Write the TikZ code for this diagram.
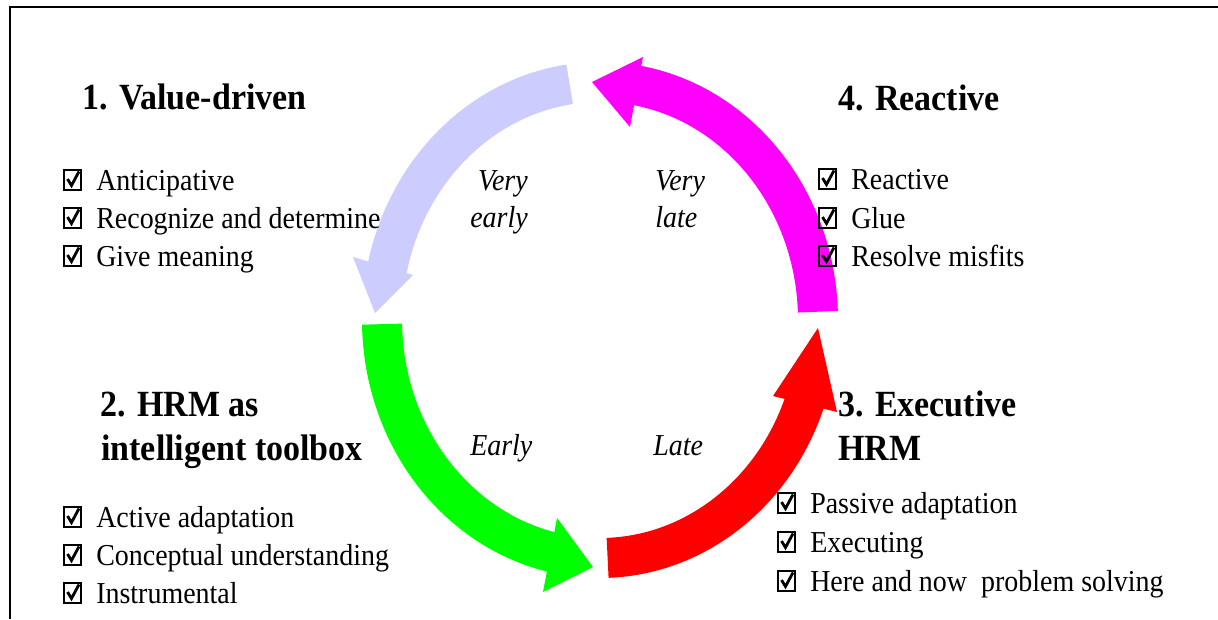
\documentclass[tikz,border=0pt]{standalone}
\usepackage{fontspec}
\setmainfont{Liberation Serif}[FakeStretch=0.92]
\definecolor{lav}{HTML}{CCCCFF}
\definecolor{grn}{HTML}{00FF00}
\definecolor{rd}{HTML}{FF0000}
\definecolor{mag}{HTML}{FF00FF}
\newcommand\chkitem[4]{\pic at (#2,#3) {cbox}; \node[body] (#1) at (#2+33,#3) {#4};}
\begin{document}
\begin{tikzpicture}[x=0.75pt,y=-0.75pt,
  body/.style={anchor=base west, inner sep=0pt, font=\fontsize{22.8}{27}\selectfont},
  ttl/.style={anchor=base west, inner sep=0pt, font=\fontsize{27.7}{33}\selectfont\bfseries},
  lab/.style={inner sep=0pt, font=\fontsize{22.8}{27}\selectfont\itshape},
  shaft/.style={line width=30pt, line cap=butt},
  frame/.style={line width=1.6pt, draw=black},
  cbox/.pic={
    \draw[line width=1.5pt] (1,0) rectangle (18,-20);
    \draw[line width=2.1pt, line join=miter] (4.5,-11) -- (8.5,-4.5) -- (16,-18.5);
  }]
\useasboundingbox (0,0) rectangle (1218,619);
% frame
\coordinate (fbl) at (10,619);
\coordinate (ftl) at (10,7);
\coordinate (ftr) at (1218,7);
\draw[frame] (fbl) -- (ftl) -- (ftr);
% ellipse centre
\coordinate (c) at (600,320);
% lavender arrow
\draw[shaft, draw=lav] (c) ++(262:218 and 238) arc[start angle=262, end angle=191, x radius=218, y radius=238];
\fill[lav] (375,313) -- (353,257) -- (413,275) -- cycle;
% green arrow
\draw[shaft, draw=grn] (c) ++(179:218 and 238) arc[start angle=179, end angle=101, x radius=218, y radius=238];
\fill[grn] (593,567) -- (557,518) -- (543,592) -- cycle;
% red arrow
\draw[shaft, draw=rd] (c) ++(88:218 and 238) arc[start angle=88, end angle=19, x radius=218, y radius=238];
\fill[rd] (818,328) -- (773,396) -- (837,412) -- cycle;
% magenta arrow
\draw[shaft, draw=mag] (c) ++(-2:218 and 238) arc[start angle=-2, end angle=-82, x radius=218, y radius=238];
\fill[mag] (592,82) -- (643,57) -- (630,127) -- cycle;
% titles
\node[ttl] (t1) at (82,109) {1. Value-driven};
\node[ttl] (t4) at (838,110) {4. Reactive};
\node[ttl] (t2a) at (100,416) {2. HRM as};
\node[ttl] (t2b) at (101,460) {intelligent toolbox};
\node[ttl] (t3a) at (838,416) {3. Executive};
\node[ttl] (t3b) at (838,460) {HRM};
% list 1
\chkitem{l1a}{63}{190}{Anticipative}
\chkitem{l1b}{63}{228}{Recognize and determine}
\chkitem{l1c}{63}{266}{Give meaning}
% list 4
\chkitem{l4a}{818}{189}{Reactive}
\chkitem{l4b}{818}{228}{Glue}
\chkitem{l4c}{818}{266}{Resolve misfits}
% list 2
\chkitem{l2a}{63}{527}{Active adaptation}
\chkitem{l2b}{63}{565}{Conceptual understanding}
\chkitem{l2c}{63}{603}{Instrumental}
% list 3
\chkitem{l3a}{777}{513}{Passive adaptation}
\chkitem{l3b}{777}{552}{Executing}
\chkitem{l3c}{777}{591}{Here and now\ \ problem solving}
% italic labels
\node[lab, anchor=base east] (ve1) at (528,190) {Very};
\node[lab, anchor=base east] (ve2) at (528,227) {early};
\node[lab, anchor=base west] (vl1) at (655,190) {Very};
\node[lab, anchor=base west] (vl2) at (655,227) {late};
\node[lab, anchor=base west] (ea) at (470,455) {Early};
\node[lab, anchor=base west] (la) at (653,455) {Late};
\end{tikzpicture}
\end{document}
